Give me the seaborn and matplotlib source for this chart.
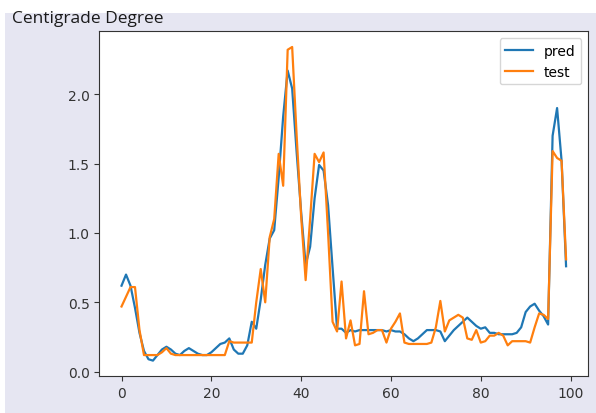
import matplotlib
matplotlib.use("Agg")
import matplotlib.pyplot as plt
import numpy as np
import seaborn as sns
from matplotlib.patches import Rectangle

# model output vs. measured test values, one per sample index
pred = [
    0.62, 0.70, 0.62, 0.46, 0.28, 0.15, 0.09, 0.08, 0.12, 0.16,
    0.18, 0.16, 0.13, 0.12, 0.15, 0.17, 0.15, 0.13, 0.12, 0.12,
    0.14, 0.17, 0.20, 0.21, 0.24, 0.16, 0.13, 0.13, 0.19, 0.36,
    0.31, 0.52, 0.77, 0.96, 1.02, 1.40, 1.84, 2.17, 2.04, 1.58,
    1.15, 0.77, 0.90, 1.25, 1.49, 1.45, 1.20, 0.75, 0.31, 0.31,
    0.28, 0.30, 0.29, 0.30, 0.30, 0.30, 0.30, 0.30, 0.30, 0.29,
    0.30, 0.29, 0.29, 0.27, 0.24, 0.22, 0.24, 0.27, 0.30, 0.30,
    0.30, 0.29, 0.22, 0.26, 0.30, 0.33, 0.36, 0.39, 0.36, 0.33,
    0.31, 0.32, 0.28, 0.28, 0.27, 0.27, 0.27, 0.27, 0.28, 0.32,
    0.43, 0.47, 0.49, 0.44, 0.40, 0.34, 1.70, 1.90, 1.52, 0.76,
]
test = [
    0.47, 0.54, 0.61, 0.61, 0.30, 0.12, 0.12, 0.12, 0.12, 0.14,
    0.17, 0.13, 0.12, 0.12, 0.12, 0.12, 0.12, 0.12, 0.12, 0.12,
    0.12, 0.12, 0.12, 0.12, 0.22, 0.21, 0.21, 0.21, 0.21, 0.21,
    0.50, 0.74, 0.50, 0.97, 1.10, 1.57, 1.34, 2.32, 2.34, 1.70,
    1.12, 0.66, 1.10, 1.57, 1.51, 1.58, 1.00, 0.36, 0.29, 0.65,
    0.24, 0.37, 0.19, 0.20, 0.58, 0.27, 0.28, 0.30, 0.30, 0.21,
    0.31, 0.36, 0.42, 0.21, 0.20, 0.20, 0.20, 0.20, 0.20, 0.21,
    0.32, 0.51, 0.29, 0.37, 0.39, 0.41, 0.39, 0.24, 0.23, 0.30,
    0.21, 0.22, 0.26, 0.26, 0.28, 0.26, 0.19, 0.22, 0.22, 0.22,
    0.22, 0.21, 0.32, 0.42, 0.41, 0.38, 1.59, 1.54, 1.52, 0.81,
]
index = np.arange(len(pred))

fig = plt.figure(figsize=(5.96, 4.14), dpi=100, facecolor="white")
fig.patches.append(Rectangle((5 / 596, 0), 1 - 5 / 596, 1 - 14 / 414,
                             transform=fig.transFigure, facecolor="#e6e6f2",
                             edgecolor="none", zorder=-10))
fig.text(12 / 596, 1 - 23 / 414, "Centigrade Degree", fontsize=12.5,
         family=["Open Sans", "DejaVu Sans"], color="#1a1a1a", va="baseline")

ax = fig.add_axes([99.3 / 596, 1 - 377.3 / 414, 489 / 596, 345 / 414])
ax.set_facecolor("white")

sns.lineplot(x=index, y=pred, label="pred", color="#1f77b4", linewidth=1.6, ax=ax)
sns.lineplot(x=index, y=test, label="test", color="#ff7f0e", linewidth=1.6, ax=ax)

ax.set_xticks([0, 20, 40, 60, 80, 100])
ax.set_yticks([0.0, 0.5, 1.0, 1.5, 2.0])
ax.tick_params(labelsize=10, colors="#333333")
for side in ax.spines.values():
    side.set_color("#333333")
ax.legend(loc="upper right", fontsize=10)

fig.savefig("out.png", dpi=100, facecolor=fig.get_facecolor())
